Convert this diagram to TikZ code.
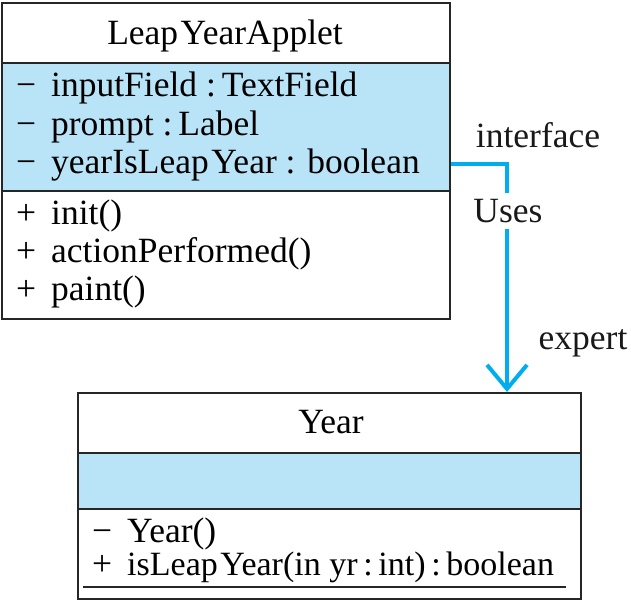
\documentclass[tikz,border=0pt]{standalone}
\usepackage{fontspec}
\setmainfont{Liberation Serif}
\usetikzlibrary{arrows.meta,calc}
\definecolor{attrblue}{RGB}{185,228,248}
\definecolor{usecyan}{RGB}{0,174,239}
\newcommand{\sgnline}[2]{\makebox[35pt][l]{#1}#2}
\newcommand{\LY}{Leap\kern2.5pt Year}
\begin{document}
\begin{tikzpicture}[x=1pt,y=-1pt,
  font=\fontsize{35.5}{40}\selectfont,
  comp/.style={draw=black!85, line width=2pt, inner sep=0pt, anchor=north west},
  attr/.style={comp, fill=attrblue},
  txt/.style={inner sep=0pt, anchor=base west},
  ttl/.style={inner sep=0pt, anchor=base},
  conn/.style={draw=usecyan, line width=4pt},
  lbl/.style={inner sep=0pt, text=black!90}]
\useasboundingbox (0,0) rectangle (631,600);
% LeapYearApplet class
\node[comp, minimum width=448pt, minimum height=60pt] (t1) at (1,2) {};
\node[attr, minimum width=448pt, minimum height=128pt] (t2) at (1,62) {};
\node[comp, minimum width=448pt, minimum height=128pt] (t3) at (1,190) {};
\node[ttl] (tn) at (225,44) {\LY Applet};
\node[txt] (a1) at (16,96) {\sgnline{−}{inputField :\,TextField}};
\node[txt] (a2) at (16,135) {\sgnline{−}{prompt :\,Label}};
\node[txt] (a3) at (16,173) {\sgnline{−}{yearIs\LY\ : boolean}};
\node[txt] (o1) at (16,224) {\sgnline{+}{init()}};
\node[txt] (o2) at (16,262) {\sgnline{+}{actionPerformed()}};
\node[txt] (o3) at (16,300) {\sgnline{+}{paint()}};
% Year class
\node[comp, minimum width=503pt, minimum height=60pt] (b1) at (77,392) {};
\node[attr, minimum width=503pt, minimum height=56pt] (b2) at (77,452) {};
\node[comp, minimum width=503pt, minimum height=90pt] (b3) at (77,508) {};
\node[ttl] (bn) at (331,433) {Year};
\node[txt] (m1) at (92,542) {\sgnline{−}{Year()}};
\node[txt] (m2) at (92,575) {\sgnline{+}{\fontsize{34}{40}\selectfont is\LY(in yr\,:\,int)\,:\,boolean}};
\draw[line width=1.6pt, black!85] (83,587) -- (566,587);
% connector
\coordinate (bend) at (507,164);
\draw[conn, -{Straight Barb[length=24pt, width=40pt]}] (t2.east |- bend) -- (bend) -- (bend |- b1.north);
\node[lbl] (lif) at (538,135) {interface};
\node[lbl, fill=white, inner ysep=6pt, inner xsep=0pt] (luse) at (508,211) {Uses};
\node[lbl] (lexp) at (583,343) {expert};
\end{tikzpicture}
\end{document}
